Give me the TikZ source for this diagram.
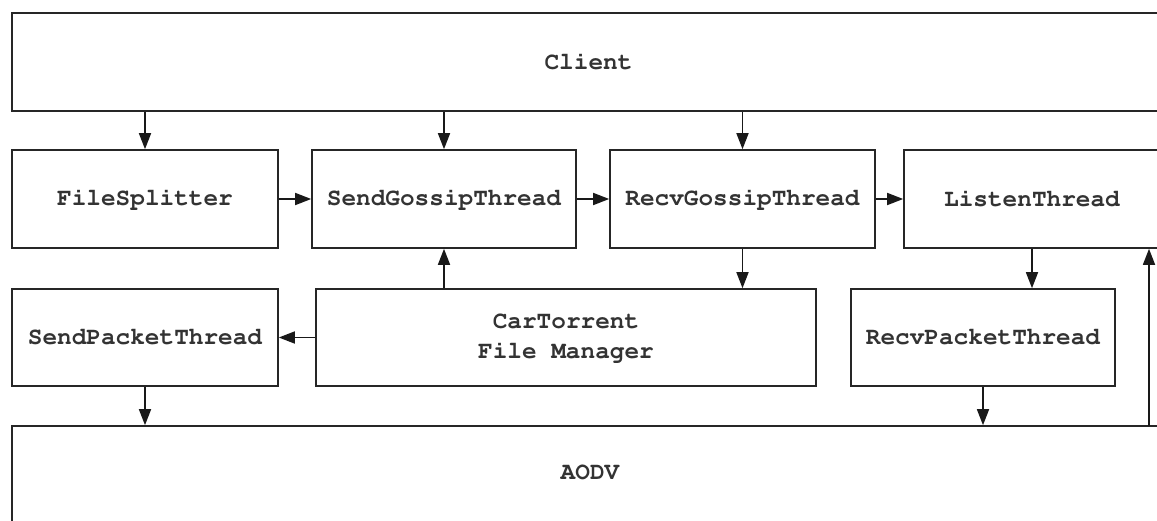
\documentclass[tikz,border=0pt]{standalone}
\usepackage[T1]{fontenc}
\renewcommand{\ttdefault}{pcr}
\usetikzlibrary{arrows.meta,positioning}

\tikzset{
  block/.style={draw=black!85,line width=0.8pt,rectangle,inner sep=0pt,
    font=\ttfamily\bfseries\fontsize{12.2}{15}\selectfont,text=black!80,align=center},
  arr/.style={-{Triangle[length=8pt,width=6pt]},line width=0.8pt,draw=black!90}
}

\begin{document}
\begin{tikzpicture}[x=0.5pt,y=-0.5pt]
\useasboundingbox (0,0) rectangle (1157,520);

% top and bottom layers run off the right edge
\node[block,minimum width=576.5pt,minimum height=49pt] (client) at (588.5,62) {Client};
\node[block,minimum width=576.5pt,minimum height=52pt] (aodv) at (588.5,478) {};
\node[font=\ttfamily\bfseries\fontsize{12.2}{15}\selectfont,text=black!80] (aodvtxt) at (590,472) {AODV};

% thread row
\node[block,minimum width=133pt,minimum height=49pt] (fs) at (145,199) {FileSplitter};
\node[block,minimum width=132pt,minimum height=49pt] (sgt) at (444,199) {SendGossipThread};
\node[block,minimum width=132.5pt,minimum height=49pt] (rgt) at (742.5,199) {RecvGossipThread};
\node[block,minimum width=128pt,minimum height=49pt] (lt) at (1032,199) {ListenThread};

% packet row
\node[block,minimum width=133pt,minimum height=48.5pt] (spt) at (145,337.5) {SendPacketThread};
\node[block,minimum width=250pt,minimum height=48.5pt] (fm) at (566,337.5) {CarTorrent\\File Manager};
\node[block,minimum width=132pt,minimum height=48.5pt] (rpt) at (983,337.5) {RecvPacketThread};

\coordinate (up) at (1149,426);

\draw[arr] (client.south -| fs.north) -- (fs.north);
\draw[arr] (client.south -| sgt.north) -- (sgt.north);
\draw[arr] (client.south -| rgt.north) -- (rgt.north);
\draw[arr] (fs.east) -- (sgt.west);
\draw[arr] (sgt.east) -- (rgt.west);
\draw[arr] (rgt.east) -- (lt.west);
\draw[arr] (fm.north -| sgt.south) -- (sgt.south);
\draw[arr] (rgt.south) -- (rgt.south |- fm.north);
\draw[arr] (fm.west) -- (spt.east);
\draw[arr] (lt.south) -- (lt.south |- rpt.north);
\draw[arr] (spt.south) -- (spt.south |- aodv.north);
\draw[arr] (rpt.south) -- (rpt.south |- aodv.north);
\draw[arr] (up) -- (up |- lt.south);
\end{tikzpicture}
\end{document}
